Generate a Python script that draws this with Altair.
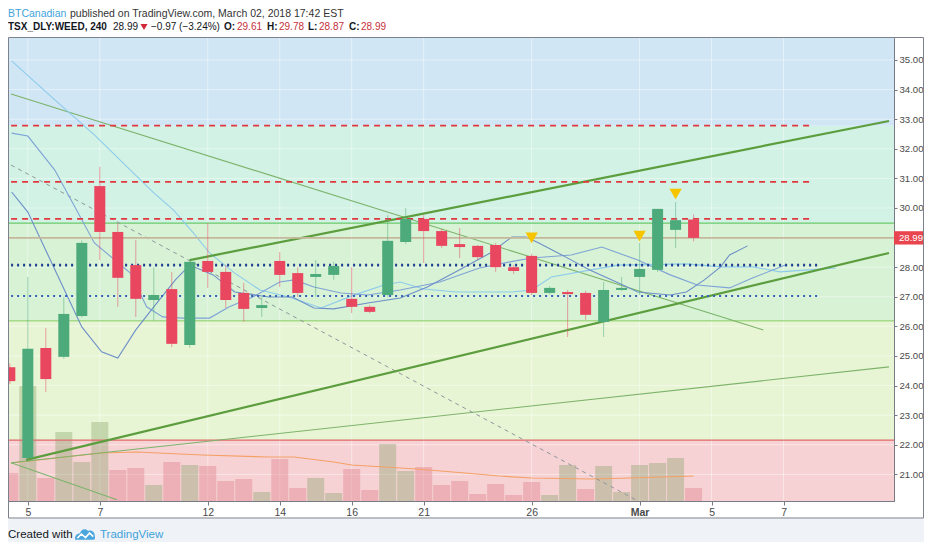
import altair as alt
import pandas as pd

# ---------------- candles (4h bars; index 0 = first bar of Feb 5) ----------------
bar_index = list(range(-1, 38))
opens = [24.62, 21.55, 25.27, 24.97, 26.35, 30.74, 29.19, 28.07, 26.89, 27.26,
         25.37, 28.21, 27.84, 27.13, 26.62, 28.21, 27.80, 27.67, 27.74, 26.93,
         26.66, 27.06, 28.85, 29.63, 29.22, 28.78, 28.72, 28.75, 28.00, 28.38,
         27.13, 27.16, 27.13, 26.15, 27.23, 27.67, 27.91, 29.26, 29.61]
highs = [24.75, 27.67, 25.95, 27.00, 28.90, 31.39, 29.49, 28.92, 28.00, 27.84,
         28.28, 29.49, 28.07, 27.47, 26.99, 28.51, 28.00, 28.24, 28.18, 28.00,
         26.72, 29.76, 30.00, 29.76, 29.29, 29.32, 28.75, 28.82, 28.07, 28.45,
         27.36, 27.23, 27.20, 27.50, 27.67, 28.82, 29.97, 30.20, 29.78]
lows = [24.05, 21.42, 23.78, 24.90, 26.30, 28.24, 26.66, 26.32, 26.20, 25.30,
        25.27, 27.30, 26.62, 26.15, 26.32, 27.33, 26.99, 26.99, 27.57, 26.45,
        26.45, 26.99, 28.78, 28.14, 28.65, 28.31, 28.24, 27.84, 27.77, 27.06,
        27.09, 25.64, 26.22, 25.64, 27.20, 27.06, 27.84, 28.65, 28.87]
closes = [24.15, 25.24, 24.22, 26.42, 28.82, 29.19, 27.64, 26.93, 27.06, 25.41,
          28.18, 27.84, 26.89, 26.59, 26.72, 27.74, 27.13, 27.77, 28.04, 26.66,
          26.49, 28.89, 29.63, 29.22, 28.72, 28.68, 28.34, 28.00, 27.87, 27.13,
          27.30, 27.09, 26.39, 27.23, 27.30, 27.94, 29.97, 29.59, 28.99]

# volume (thousands) and whether the volume bar is drawn as "up"
volumes = [280, 1150, 230, 690, 390, 790, 310, 330, 160, 390,
           360, 350, 200, 220, 90, 420, 130, 230, 80, 320,
           110, 570, 300, 340, 160, 200, 70, 170, 60, 190,
           60, 360, 120, 350, 90, 360, 380, 430, 130]
volume_up = [0, 1, 0, 1, 1, 1, 0, 0, 1, 0,
             1, 0, 0, 0, 1, 0, 0, 1, 1, 0,
             0, 1, 1, 0, 0, 0, 0, 0, 0, 0,
             1, 1, 0, 1, 1, 1, 1, 1, 0]
volume_pane_max = 4630  # volume that would fill the whole pane height

# volume moving average
vma_x = [-0.93, 4.07, 6.04, 9.7, 13.4, 14.8, 17.0, 18.0, 19.8, 21.6, 24.3, 26.2, 28.0, 31.3, 33.5, 37.0]
vma_v = [380, 480, 490, 460, 440, 440, 390, 360, 340, 320, 280, 250, 230, 220, 230, 250]

# moving-average style lines
ma_fast_x = [-0.9, 0.0, 1.5, 3.0, 4.1, 5.0, 6.0, 7.0, 8.2, 9.0, 10.3, 11.5, 13.4, 14.7, 15.9, 17.0,
             18.9, 20.7, 22.2, 24.0, 25.7, 26.9, 27.7, 28.4, 29.9, 31.2, 32.8, 33.9, 35.7, 36.6,
             37.6, 38.5, 39.0, 40.0]
ma_fast_p = [30.54, 29.86, 27.92, 25.98, 25.14, 24.93, 25.88, 26.66, 27.57, 28.07, 27.74, 27.16,
             26.99, 26.99, 26.62, 26.59, 26.79, 26.96, 27.33, 27.91, 28.48, 29.02, 29.02, 28.82,
             28.34, 27.91, 27.47, 27.16, 27.06, 27.16, 27.57, 28.01, 28.41, 28.72]
ma_mid_x = [-0.9, 0.0, 1.5, 3.7, 5.7, 6.6, 7.5, 8.6, 10.1, 11.2, 12.5, 14.0, 14.8, 15.9, 17.4,
            18.9, 20.7, 22.9, 25.1, 26.8, 28.0, 30.2, 31.9, 33.9, 35.7, 37.2, 39.0, 40.3, 42.1]
ma_mid_p = [32.53, 32.43, 31.28, 28.82, 27.80, 26.66, 26.32, 26.28, 26.28, 26.66, 26.99, 27.50,
            27.57, 27.33, 27.13, 27.06, 27.23, 27.50, 27.97, 28.18, 28.31, 28.41, 28.68, 28.24,
            27.74, 27.40, 27.30, 27.64, 28.07]
ma_slow_x = [-0.9, 1.5, 3.7, 5.7, 7.0, 8.1, 9.2, 10.1, 11.5, 12.9, 14.5, 16.3, 18.0, 19.8, 20.7,
             22.0, 23.8, 25.5, 26.9, 28.0, 29.1, 31.3, 32.8, 36.6, 38.5, 40.3, 41.8, 43.4, 44.9]
ma_slow_p = [34.97, 33.65, 32.47, 31.28, 30.51, 29.93, 29.16, 28.48, 27.80, 27.23, 26.99, 26.62,
             27.03, 27.40, 27.50, 27.26, 27.16, 27.16, 27.16, 27.23, 27.67, 27.91, 28.07, 28.11,
             28.01, 28.01, 27.84, 27.91, 27.97]

# axes
tick_index = [0, 4, 10, 14, 18, 22, 28, 34, 38, 42]
tick_labels = ["5", "7", "12", "14", "16", "21", "26", "Mar", "5", "7"]
price_ticks = list(range(21, 36))

# zones
zone_edges = [20.0, 22.16, 26.19, 29.49, 32.78, 36.0]
zone_colors = ["#f6d2d4", "#e8f5d4", "#d7f2d5", "#d1f2e5", "#d0e6f5"]

# drawn levels
dashed_levels = [32.78, 30.88, 29.63]
dashed_end = 43.5
dotted_levels = [28.07, 27.03]
dotted_end = 43.9
green_levels = [29.49, 26.19]
red_level = 22.16
last_price = 28.99

# trend lines (start index, start price, end index, end price)
thick_x1 = [9.0, -0.1]
thick_y1 = [28.24, 21.49]
thick_x2 = [47.86, 47.86]
thick_y2 = [32.94, 28.48]
thin_x1 = [-0.93, -0.93, -0.93]
thin_y1 = [33.85, 21.39, 21.39]
thin_x2 = [40.88, 47.86, 4.95]
thin_y2 = [25.88, 24.63, 20.14]
dash_x1 = [-0.93]
dash_y1 = [31.45]
dash_x2 = [34.0]
dash_y2 = [20.07]

# signals
signal_index = [28, 34, 36]
signal_price = [28.99, 29.05, 30.47]

# header / footer texts
title_line1 = ["BTCanadian", "published on TradingView.com, March 02, 2018 17:42 EST"]
title_line2 = ["TSX_DLY:WEED, 240", "28.99", "\u22120.97 (\u22123.24%)",
               "O:", "29.61", "H:", "29.78", "L:", "28.87", "C:", "28.99"]
footer_words = ["Created with", "TradingView"]

# ---------------- styling ----------------
W, H = 886, 463
XMIN, XMAX = -0.824, 47.86
YMIN, YMAX = 20.10, 35.743
GREEN = "#4dab7b"
RED = "#e9475f"
VOL_UP = "#8aa36b"
VOL_DOWN = "#e07a85"
FONT = "Liberation Sans"
VSCALE = (YMAX - YMIN) / volume_pane_max

xscale = alt.Scale(domain=[XMIN, XMAX], nice=False, zero=False)
yscale = alt.Scale(domain=[YMIN, YMAX], nice=False, zero=False)

lbl_expr = ("[" + ",".join("'%s'" % s for s in tick_labels) + "][indexof(["
            + ",".join(str(v) for v in tick_index) + "], datum.value)]")
xaxis = alt.Axis(values=tick_index, labelExpr=lbl_expr, title=None, grid=False,
                 tickSize=4, tickColor="#787b86", domainColor="#787b86",
                 labelColor="#4a4a4a", labelFontSize=10.5, labelFont=FONT,
                 labelPadding=2, labelOverlap=False, labelFlush=False,
                 labelFontWeight={"condition": {"test": "datum.value == 34", "value": "bold"},
                                  "value": "normal"})
yaxis = alt.Axis(orient="right", values=price_ticks, format=".2f", title=None, grid=False,
                 tickSize=3, tickColor="#787b86", domainColor="#787b86",
                 labelColor="#4a4a4a", labelFontSize=9.6, labelFont=FONT,
                 labelPadding=2, labelOverlap=False, labelFlush=False)


def X(f):
    return alt.X(f, type="quantitative", scale=xscale, axis=xaxis)


def Y(f):
    return alt.Y(f, type="quantitative", scale=yscale, axis=yaxis)


# ---------------- tables ----------------
candles = pd.DataFrame({"i": bar_index, "o": opens, "h": highs, "l": lows, "c": closes})
candles["ccol"] = [GREEN if c >= o else RED for o, c in zip(opens, closes)]

vol = pd.DataFrame({"i": bar_index, "v": volumes,
                    "vcol": [VOL_UP if u else VOL_DOWN for u in volume_up]})
vma = pd.DataFrame({"x": vma_x, "v": vma_v})

zones = pd.DataFrame({"y0": zone_edges[:-1], "y1": zone_edges[1:], "zcol": zone_colors})
hgrid = pd.DataFrame({"p": price_ticks})
vgrid = pd.DataFrame({"i": tick_index})

dashed = pd.DataFrame({"y": dashed_levels, "x1": [-0.93] * 3, "x2": [dashed_end] * 3})
dotted = pd.DataFrame({"y": dotted_levels, "x1": [-0.93] * 2, "x2": [dotted_end] * 2})
greens = pd.DataFrame({"y": green_levels, "gcol": ["#6cc96a", "#a6da8b"], "w": [1.2, 1.6]})
reds = pd.DataFrame({"y": [red_level]})
lastp = pd.DataFrame({"y": [last_price], "lo": [last_price - 0.225], "hi": [last_price + 0.225],
                      "lbl": ["%.2f" % last_price]})

thick = pd.DataFrame({"x1": thick_x1, "y1": thick_y1, "x2": thick_x2, "y2": thick_y2})
thin = pd.DataFrame({"x1": thin_x1, "y1": thin_y1, "x2": thin_x2, "y2": thin_y2})
dashl = pd.DataFrame({"x1": dash_x1, "y1": dash_y1, "x2": dash_x2, "y2": dash_y2})

fast = pd.DataFrame({"x": ma_fast_x, "p": ma_fast_p})
mid = pd.DataFrame({"x": ma_mid_x, "p": ma_mid_p})
slow = pd.DataFrame({"x": ma_slow_x, "p": ma_slow_p})
signals = pd.DataFrame({"i": signal_index, "p": signal_price})

one = pd.DataFrame({"k": [0]})

# ---------------- layers ----------------
bands = alt.Chart(zones).mark_rect(clip=True).encode(
    x=alt.value(0), x2=alt.value(W), y=Y("y0"), y2="y1",
    fill=alt.Fill("zcol:N", scale=None))
hg = alt.Chart(hgrid).mark_rule(color="#ffffff", opacity=0.45, strokeWidth=1).encode(y=Y("p"))
vg = alt.Chart(vgrid).mark_rule(color="#ffffff", opacity=0.45, strokeWidth=1).encode(x=X("i"))

# volume pane shares the pane: volume is mapped onto the bottom of the price scale
vbars = alt.Chart(vol).transform_calculate(
    top="%f + datum.v * %f" % (YMIN, VSCALE), base="%f" % YMIN
).mark_bar(size=17, opacity=0.38, clip=True).encode(
    x=X("i"), y=Y("top:Q"), y2="base:Q", fill=alt.Fill("vcol:N", scale=None))
vline = alt.Chart(vma).transform_calculate(
    top="%f + datum.v * %f" % (YMIN, VSCALE)
).mark_line(color="#f4a066", strokeWidth=1.2, clip=True).encode(x=X("x"), y=Y("top:Q"))

green_rules = alt.Chart(greens).mark_rule(clip=True).encode(
    y=Y("y"), stroke=alt.Stroke("gcol:N", scale=None),
    strokeWidth=alt.StrokeWidth("w:Q", scale=None))
red_rule = alt.Chart(reds).mark_rule(color="#e06a6a", strokeWidth=1.2, clip=True).encode(y=Y("y"))
price_rule = alt.Chart(lastp).mark_rule(color="#c4b79c", strokeWidth=1.6, clip=True).encode(y=Y("y"))

thin_lines = alt.Chart(thin).mark_rule(color="#7db36b", strokeWidth=1.1, clip=True).encode(
    x=X("x1"), y=Y("y1"), x2="x2", y2="y2")
gray_dash = alt.Chart(dashl).mark_rule(color="#8e979c", strokeWidth=1, strokeDash=[4, 4],
                                       clip=True).encode(x=X("x1"), y=Y("y1"), x2="x2", y2="y2")

l_slow = alt.Chart(slow).mark_line(color="#8ecbec", strokeWidth=1.1, clip=True).encode(
    x=X("x"), y=Y("p"))
l_mid = alt.Chart(mid).mark_line(color="#7fa3d6", strokeWidth=1.1, clip=True).encode(
    x=X("x"), y=Y("p"))
l_fast = alt.Chart(fast).mark_line(color="#6d8fc8", strokeWidth=1.1, clip=True).encode(
    x=X("x"), y=Y("p"))

thick_lines = alt.Chart(thick).mark_rule(color="#5c9d3e", strokeWidth=2.2, clip=True).encode(
    x=X("x1"), y=Y("y1"), x2="x2", y2="y2")

red_dash = alt.Chart(dashed).mark_rule(color="#e0383e", strokeWidth=1.8, strokeDash=[6, 5],
                                       clip=True).encode(x=X("x1"), x2="x2", y=Y("y"))
dot_hi = alt.Chart(dotted.iloc[[0]]).mark_rule(color="#1f3f92", strokeWidth=2.6, strokeDash=[2, 4],
                                               clip=True).encode(x=X("x1"), x2="x2", y=Y("y"))
dot_lo = alt.Chart(dotted.iloc[[1]]).mark_rule(color="#3463b4", strokeWidth=2.0, strokeDash=[2, 4],
                                               clip=True).encode(x=X("x1"), x2="x2", y=Y("y"))

wicks = alt.Chart(candles).mark_rule(strokeWidth=1, opacity=0.5, clip=True).encode(
    x=X("i"), y=Y("l"), y2="h", stroke=alt.Stroke("ccol:N", scale=None))
bodies = alt.Chart(candles).mark_bar(size=11, clip=True).encode(
    x=X("i"), y=Y("o"), y2="c", fill=alt.Fill("ccol:N", scale=None))

tri = alt.Chart(signals).mark_point(shape="triangle-down", filled=True, size=150,
                                    color="#f7c400", opacity=1, clip=True).encode(
    x=X("i"), y=Y("p"))

plabel_box = alt.Chart(lastp).mark_rect(color="#e8454f").encode(
    x=alt.value(886), x2=alt.value(915), y=Y("hi"), y2="lo")
plabel_txt = alt.Chart(lastp).mark_text(color="#ffffff", fontSize=9.6, font=FONT,
                                        align="left", baseline="middle").encode(
    x=alt.value(891), y=Y("y"), text="lbl:N")

# ---------------- frame, header and footer (page layout) ----------------
footer_bg = alt.Chart(one).mark_rect(color="#eff2f6").encode(
    x=alt.value(-8), x2=alt.value(930), y=alt.value(480.5), y2=alt.value(520))
frame = alt.Chart(one).mark_rect(fillOpacity=0, stroke="#7d818c", strokeWidth=1).encode(
    x=alt.value(0.5), x2=alt.value(915.5), y=alt.value(-0.5), y2=alt.value(480))

DARK = "#131722"
HRED = "#c62f3a"
BLUE = "#3fa3da"


def label(text, x, y, color=DARK, bold=False, size=10.5):
    props = dict(text=text, fontSize=size, font=FONT, align="left", baseline="middle", color=color)
    if bold:
        props["fontWeight"] = "bold"
    return alt.Chart(one).mark_text(**props).encode(x=alt.value(x), y=alt.value(y))


line1_x = [0, 62]
line1_col = [BLUE, "#333333"]
line2_x = [0, 105, 143, 216, 229, 259, 271, 300, 311, 341, 353]
line2_bold = [True, False, False, True, False, True, False, True, False, True, False]
line2_col = [DARK, DARK, DARK, DARK, HRED, DARK, HRED, DARK, HRED, DARK, HRED]

texts = []
for t, x, c in zip(title_line1, line1_x, line1_col):
    texts.append(label(t, x, -24, c))
for t, x, b, c in zip(title_line2, line2_x, line2_bold, line2_col):
    texts.append(label(t, x, -11, c, bold=b, size=10))

harrow = alt.Chart(one).mark_point(shape="triangle-down", filled=True, size=50,
                                   color="#d0283a", opacity=1).encode(
    x=alt.value(136), y=alt.value(-11))

foot1 = label(footer_words[0], 0, 497, DARK, size=11.5)
foot2 = label(footer_words[1], 92, 497, BLUE, size=11.5)
cloud = alt.Chart(one).mark_point(
    shape="M-0.95,0.55 C-1.05,0.2 -0.8,-0.05 -0.5,-0.05 C-0.4,-0.45 0.05,-0.6 0.3,-0.3 "
          "C0.65,-0.45 1.0,-0.15 0.95,0.2 C1.0,0.3 1.0,0.55 0.85,0.55 Z",
    filled=True, size=420, color="#4aa6dd", opacity=1).encode(x=alt.value(77), y=alt.value(496))
zig = alt.Chart(one).mark_point(
    shape="M-0.75,0.4 L-0.35,0.0 L0.05,0.35 L0.45,-0.1 L0.8,0.25",
    filled=False, size=420, stroke="#ffffff", strokeWidth=1.6, opacity=1).encode(
    x=alt.value(77), y=alt.value(496))

chart = alt.layer(
    bands, hg, vg, vbars, vline,
    green_rules, red_rule, thin_lines, gray_dash, l_slow, l_mid, l_fast,
    thick_lines, red_dash, dot_hi, dot_lo, price_rule, wicks, bodies, tri,
    footer_bg, frame, plabel_box, plabel_txt, harrow, foot1, foot2, cloud, zig, *texts
).properties(
    width=W, height=H, autosize="none",
    padding={"left": 0, "top": 30, "right": 30, "bottom": 41},
    background="#ffffff",
).configure_view(stroke="#7d818c", strokeWidth=1)

chart.save("out.html", embed_options={"renderer": "svg", "actions": False})
